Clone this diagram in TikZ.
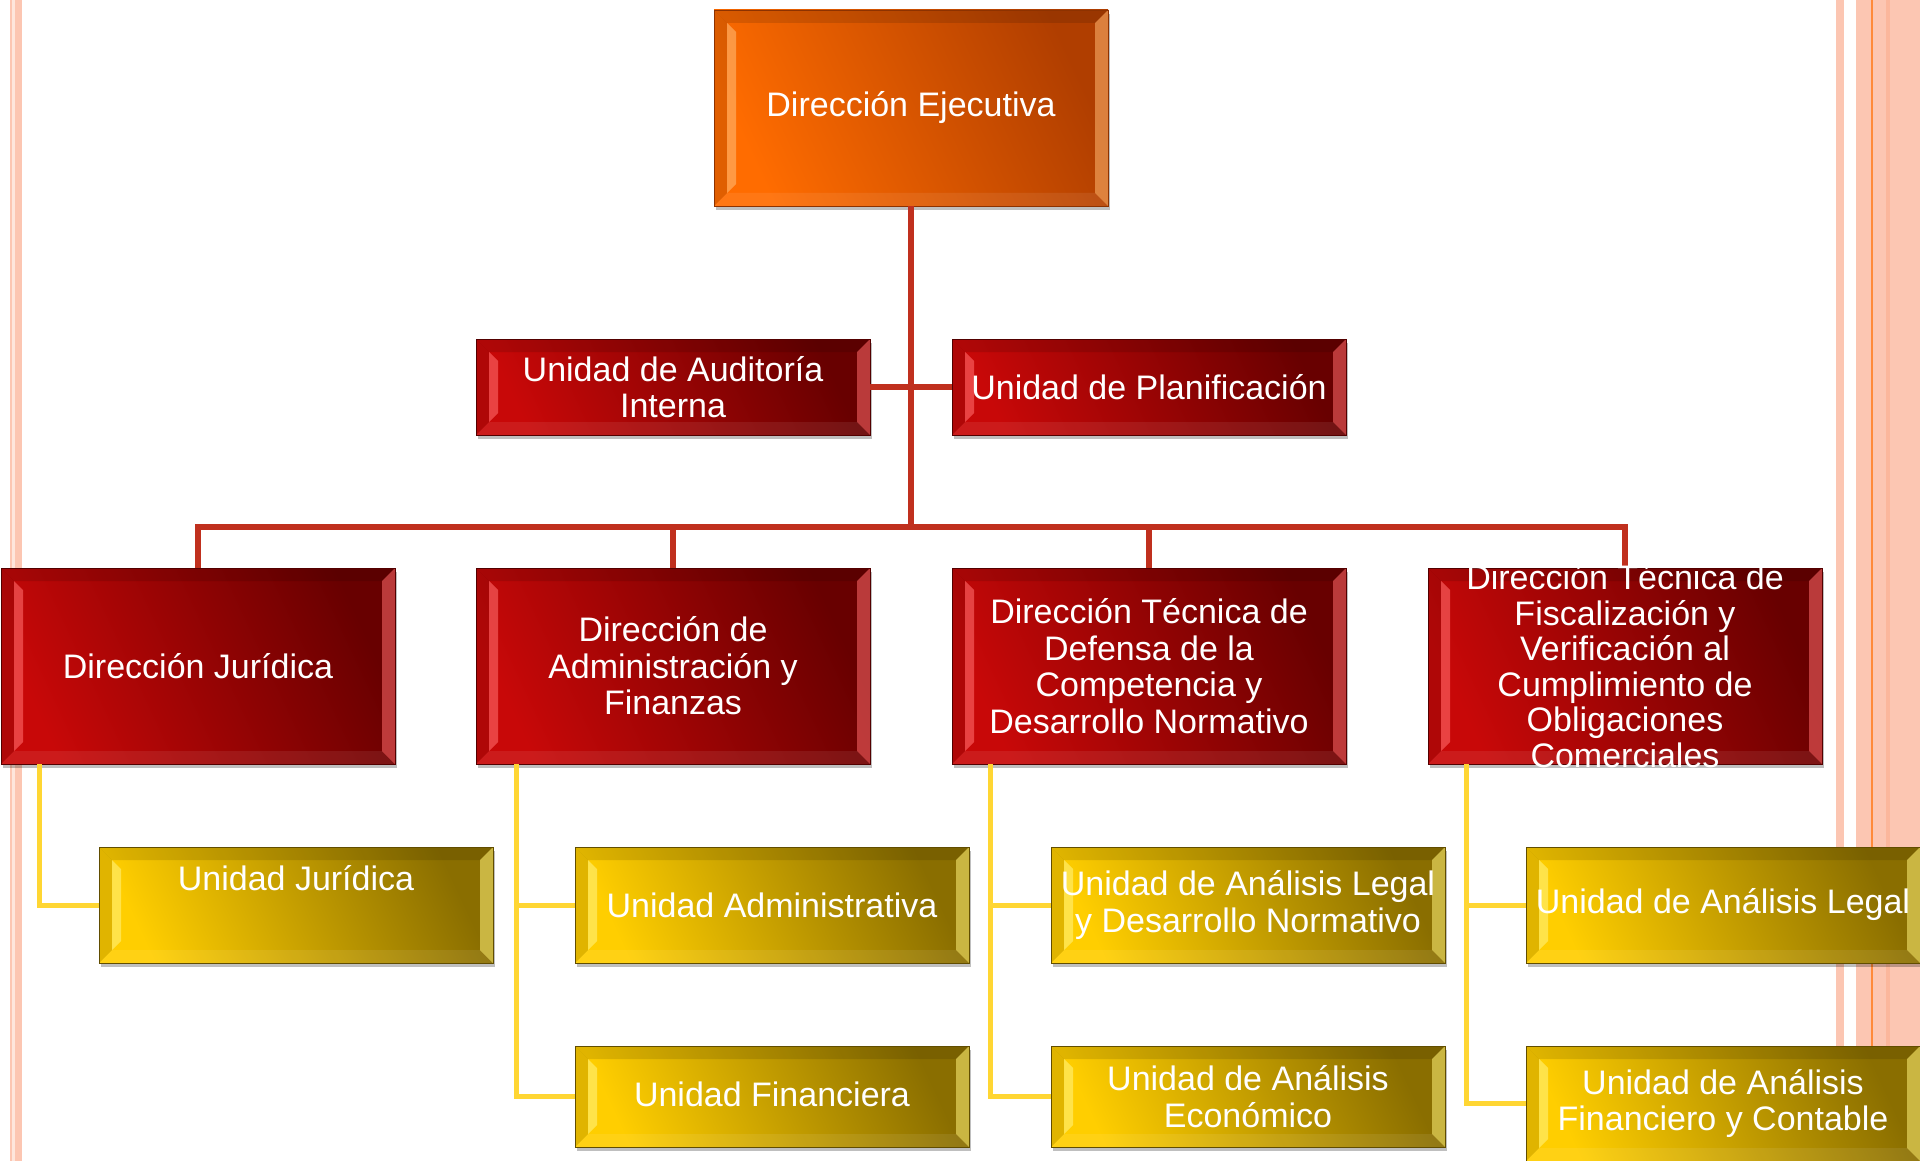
\documentclass[tikz,border=0pt]{standalone}
\usepackage{fontspec}
\setmainfont{Liberation Sans}
\usetikzlibrary{shadows}
\definecolor{salmon}{HTML}{FCC6B2}
\definecolor{salmonpale}{HTML}{FEE6DC}
\definecolor{salmondk}{HTML}{FBB79C}
\definecolor{orline}{HTML}{FF8A3A}
\definecolor{redline}{HTML}{C0301E}
\definecolor{yelline}{HTML}{FFD633}
\definecolor{rdark}{HTML}{680000}
\definecolor{rbright}{HTML}{C80808}
\definecolor{rhigh}{HTML}{FF6A6A}
\definecolor{odark}{HTML}{B03E00}
\definecolor{obright}{HTML}{FF6C00}
\definecolor{ohigh}{HTML}{FFB870}
\definecolor{ydark}{HTML}{8A6E00}
\definecolor{ybright}{HTML}{FFCE00}
\definecolor{yhigh}{HTML}{FFF27A}
\tikzset{
  bevel/.style={path picture={
    \fill[black,opacity=0.12] (path picture bounding box.north west) -- (path picture bounding box.north east)
      -- ([xshift=-13pt,yshift=-13pt]path picture bounding box.north east) -- ([xshift=13pt,yshift=-13pt]path picture bounding box.north west) -- cycle;
    \fill[white,opacity=0.08] (path picture bounding box.south west) -- (path picture bounding box.south east)
      -- ([xshift=-13pt,yshift=13pt]path picture bounding box.south east) -- ([xshift=13pt,yshift=13pt]path picture bounding box.south west) -- cycle;
    \fill[black,opacity=0.12] (path picture bounding box.north west) -- ([xshift=13pt,yshift=-13pt]path picture bounding box.north west)
      -- ([xshift=13pt,yshift=13pt]path picture bounding box.south west) -- (path picture bounding box.south west) -- cycle;
    \fill[#1,opacity=0.6] ([xshift=13pt,yshift=-13pt]path picture bounding box.north west) -- ([xshift=22pt,yshift=-22pt]path picture bounding box.north west)
      -- ([xshift=22pt,yshift=22pt]path picture bounding box.south west) -- ([xshift=13pt,yshift=13pt]path picture bounding box.south west) -- cycle;
    \fill[#1,opacity=0.55] (path picture bounding box.north east) -- ([xshift=-13pt,yshift=-13pt]path picture bounding box.north east)
      -- ([xshift=-13pt,yshift=13pt]path picture bounding box.south east) -- (path picture bounding box.south east) -- cycle;
  }},
  boxbase/.style={rectangle, inner sep=0pt, line width=0.8pt,
    drop shadow={shadow xshift=2pt, shadow yshift=-4pt, opacity=0.25, fill=black}},
  redbox/.style={boxbase, bevel=rhigh, draw=rdark!80!black, top color=rdark, bottom color=rbright, shading angle=-65},
  orbox/.style={boxbase, bevel=ohigh, draw=odark!80!black, top color=odark, bottom color=obright, shading angle=-65},
  yelbox/.style={boxbase, bevel=yhigh, draw=ydark!70!black, top color=ydark, bottom color=ybright, shading angle=-65},
  big/.style={minimum width=394pt, minimum height=196pt},
  mid/.style={minimum width=394pt, minimum height=96pt},
  row1/.style={minimum width=394pt, minimum height=116pt},
  txt/.style={text=white, align=center, inner sep=0pt, font=\fontsize{34}{36.5}\selectfont},
  rline/.style={draw=redline, line width=5.5pt},
  yline/.style={draw=yelline, line width=5pt}
}
\begin{document}
\begin{tikzpicture}[x=1pt,y=-1pt]
\fill[white] (0,0) rectangle (1920,1161);
\useasboundingbox (0,0) rectangle (1920,1161);
% margin stripes
\fill[salmon] (10,0) rectangle (12,1161);
\fill[salmonpale] (12,0) rectangle (14.7,1161);
\fill[salmon] (14.7,0) rectangle (22,1161);
\fill[salmon] (1836,0) rectangle (1844,1161);
\fill[salmon] (1856,0) rectangle (1920,1161);
\fill[orline] (1871,0) rectangle (1873,1161);
\fill[salmondk] (1886,0) rectangle (1890,1161);

% boxes
\node[orbox, big] (top) at (911,108) {};
\node[redbox, mid] (aud) at (673,387) {};
\node[redbox, mid] (plan) at (1149,387) {};
\node[redbox, big] (dj) at (198,666) {};
\node[redbox, big] (da) at (673,666) {};
\node[redbox, big] (dt) at (1149,666) {};
\node[redbox, big] (df) at (1625,666) {};
\node[yelbox, row1] (uj) at (296,905) {};
\node[yelbox, row1] (ua) at (772,905) {};
\node[yelbox, row1] (ul) at (1248,905) {};
\node[yelbox, row1] (ulg) at (1723,905) {};
\node[yelbox, minimum width=394pt, minimum height=101pt] (uf) at (772,1096.5) {};
\node[yelbox, minimum width=394pt, minimum height=101pt] (ue) at (1248,1096.5) {};
\node[yelbox, minimum width=394pt, minimum height=115pt] (ufc) at (1723,1103.5) {};

% connectors
\coordinate (bus) at (911,527);
\draw[rline] (top.south) -- (bus);
\draw[rline] (aud.east) -- (plan.west);
\draw[rline] (dj.north) |- (bus);
\draw[rline] (da.north) |- (bus);
\draw[rline] (dt.north) |- (bus);
\draw[rline] (df.north) |- (bus);
\draw[yline] ([xshift=39pt]dj.south west) |- (uj.west);
\draw[yline] ([xshift=41pt]da.south west) |- (ua.west);
\draw[yline] ([xshift=41pt]da.south west) |- (uf.west);
\draw[yline] ([xshift=39pt]dt.south west) |- (ul.west);
\draw[yline] ([xshift=39pt]dt.south west) |- (ue.west);
\draw[yline] ([xshift=39pt]df.south west) |- (ulg.west);
\draw[yline] ([xshift=39pt]df.south west) |- (ufc.west);

% texts
\node[txt] (top-t) at (top) {Dirección Ejecutiva};
\node[txt] (aud-t) at (aud) {Unidad de Auditoría\\Interna};
\node[txt] (plan-t) at (plan) {Unidad de Planificación};
\node[txt] (dj-t) at (dj) {Dirección Jurídica};
\node[txt] (da-t) at (da) {Dirección de\\Administración y\\Finanzas};
\node[txt] (dt-t) at (dt) {Dirección Técnica de\\Defensa de la\\Competencia y\\Desarrollo Normativo};
\node[txt, font=\fontsize{34}{35.5}\selectfont] (df-t) at (df) {Dirección Técnica de\\Fiscalización y\\Verificación al\\Cumplimiento de\\Obligaciones\\Comerciales};
\node[txt] (uj-t) at ([yshift=27pt]uj.center) {Unidad Jurídica};
\node[txt] (ua-t) at (ua) {Unidad Administrativa};
\node[txt] (ul-t) at (ul) {Unidad de Análisis Legal\\y Desarrollo Normativo};
\node[txt] (ulg-t) at (ulg) {Unidad de Análisis Legal};
\node[txt] (uf-t) at ([yshift=2pt]uf.center) {Unidad Financiera};
\node[txt] (ue-t) at (ue) {Unidad de Análisis\\Económico};
\node[txt] (ufc-t) at (ufc) {Unidad de Análisis\\Financiero y Contable};
\end{tikzpicture}
\end{document}
